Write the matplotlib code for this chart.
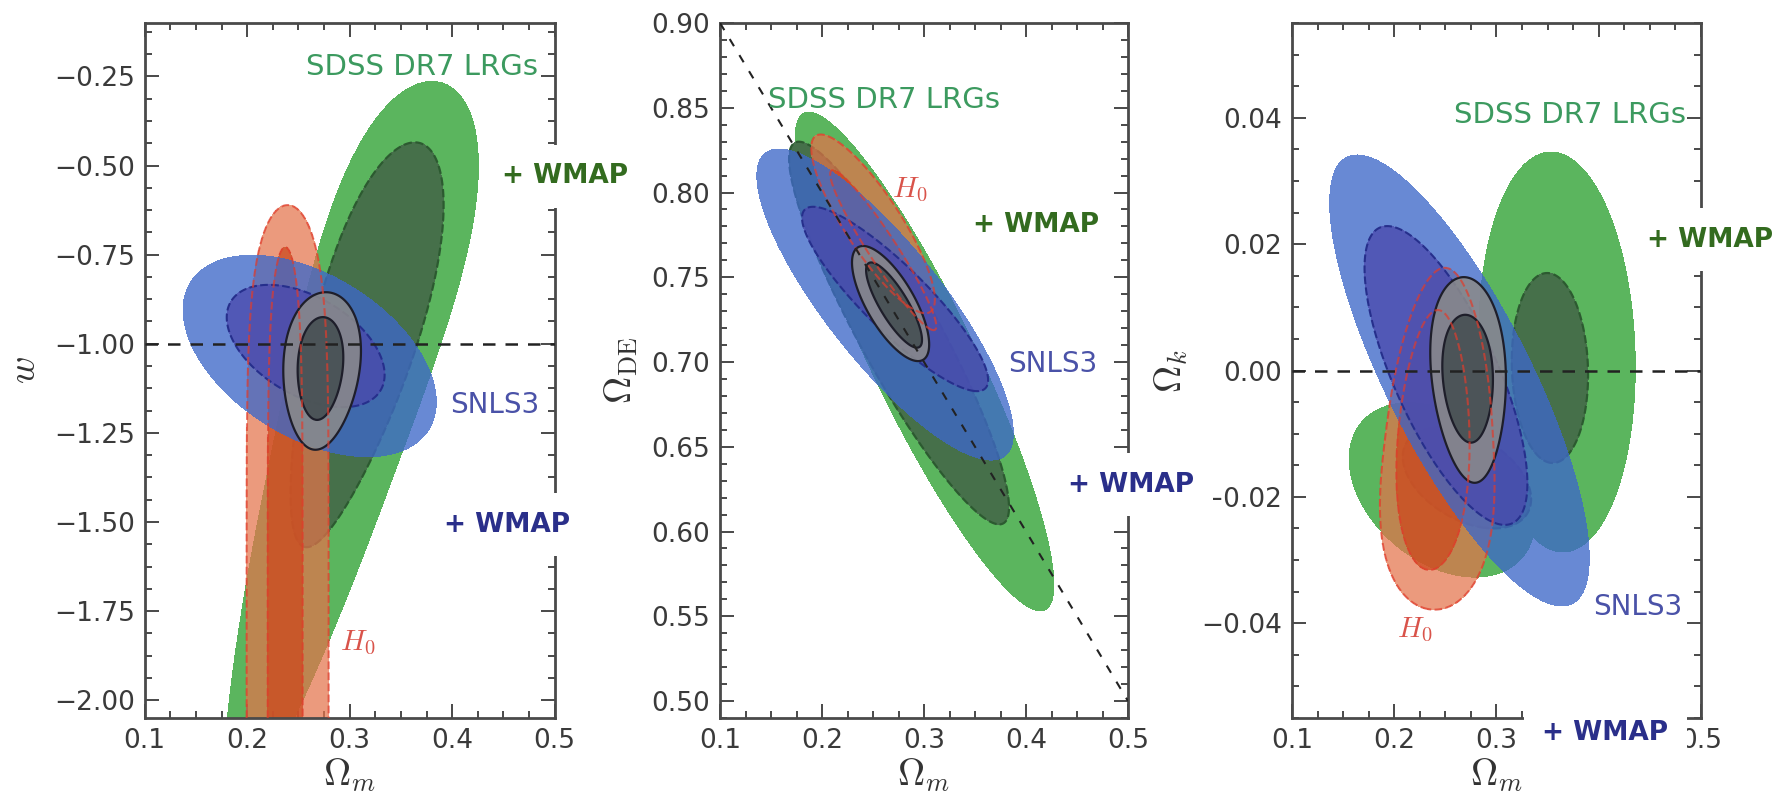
import numpy as np
import matplotlib
matplotlib.use("Agg")
import matplotlib.pyplot as plt
from matplotlib.ticker import MultipleLocator

plt.rcParams['font.family'] = ['DejaVu Sans']
plt.rcParams['mathtext.fontset'] = 'cm'

# ---------------- data ----------------
# Each confidence region: list of ellipse-like shapes
# [centre_x, centre_y (data units), semi-major, semi-minor (axes px), angle (deg), exponent, taper]
# panel 1: Omega_m - w
W_SDSS_95 = [[0.2873, -1.2925, 380, 63, 74, 3.0, 0.46]]
W_SDSS_68 = [[0.3122, -1.0034, 210, 52, 74, 2.0, 0.20]]
W_H0_95 = [[0.2395, -2.182, 560, 41, 90, 8.0, 0.0]]
W_H0_68 = [[0.2371, -2.30, 560, 17.5, 90, 8.0, 0.0]]
W_SN_95 = [[0.2610, -1.0343, 140, 81, -31.6, 2.0, 0.0]]
W_SN_68 = [[0.2571, -1.0063, 87, 49, -30.6, 2.0, 0.0]]
W_ALL_95 = [[0.2722, -1.0764, 79, 38, 85, 2.0, 0.15]]
W_ALL_68 = [[0.2712, -1.0694, 51.5, 22.5, 86, 2.0, 0.10]]

# panel 2: Omega_m - Omega_DE
DE_SDSS_95 = [[0.3005, 0.7003, 276, 52, -64.1, 2.0, 0.0]]
DE_SDSS_68 = [[0.2755, 0.7171, 217, 40, -61.3, 2.0, 0.0]]
DE_H0_95 = [[0.2500, 0.7815, 105, 28, -57, 2.0, 0.0]]
DE_H0_68 = [[0.2600, 0.7660, 95, 14, -57, 2.0, 0.0]]
DE_SN_95 = [[0.2618, 0.7339, 193, 58, -51.6, 2.0, 0.0]]
DE_SN_68 = [[0.2716, 0.7372, 127, 32, -44.7, 2.0, 0.0]]
DE_ALL_95 = [[0.2672, 0.7345, 65, 24, -60, 2.0, 0.0]]
DE_ALL_68 = [[0.2706, 0.7336, 49, 14, -59, 2.0, 0.0]]

# panel 3: Omega_m - Omega_k
K_SDSS_95 = [[0.3592, 0.00293, 200, 78, 92, 2.0, 0.0],
             [0.2467, -0.0189, 105, 72, -40, 2.0, 0.0]]
K_SDSS_68 = [[0.3523, 0.000396, 95, 38, 92, 2.0, 0.0],
             [0.2711, -0.0170, 70, 42, -30, 2.0, 0.0]]
K_H0_95 = [[0.2440, -0.0108, 171, 54, 88, 2.5, -0.28]]
K_H0_68 = [[0.2385, -0.0110, 130, 36, 88, 2.0, -0.15]]
K_SN_95 = [[0.2638, -0.00158, 250, 72, -63.2, 2.0, 0.0]]
K_SN_68 = [[0.2506, -0.00079, 162, 52, -65.9, 2.0, 0.0]]
K_ALL_95 = [[0.2731, -0.0015, 103, 37, 93.5, 2.0, 0.15]]
K_ALL_68 = [[0.2721, -0.0013, 64, 25, 93, 2.0, 0.10]]

XLIM = (0.1, 0.5)
YLIMS = [(-2.05, -0.10), (0.49, 0.90), (-0.055, 0.055)]
XTICKS = [0.1, 0.2, 0.3, 0.4, 0.5]
XTICKLABELS = [['0.1', '0.2', '0.3', '0.4', '0.5'],
               ['0.1', '0.2', '0.3', '0.4', '0.5'],
               ['0.1', '0.2', '0.3', '', '0.5']]
YMAJOR = [0.25, 0.05, 0.02]
YMINOR = [0.0625, 0.01, 0.005]
YLABELS = [r'$w$', r'$\Omega_{\rm DE}$', r'$\Omega_k$']
XLABEL = r'$\Omega_m$'

# label texts and positions (data coords)
LABELS = [
    [("SDSS DR7 LRGs", 0.4834, -0.2235, 'sdss', 'right'),
     ("+ WMAP", 0.510, -0.53, 'wg', 'center'),
     ("SNLS3", 0.4418, -1.172, 'sn', 'center'),
     ("+ WMAP", 0.4535, -1.508, 'wb', 'center'),
     (r"$H_0$", 0.308, -1.84, 'h0', 'center')],
    [("SDSS DR7 LRGs", 0.147, 0.8546, 'sdss', 'left'),
     (r"$H_0$", 0.286, 0.8015, 'h0', 'center'),
     ("+ WMAP", 0.4098, 0.7808, 'wg', 'center'),
     ("SNLS3", 0.4265, 0.699, 'sn', 'center'),
     ("+ WMAP", 0.4412, 0.6275, 'wb', 'left')],
    [("SDSS DR7 LRGs", 0.4853, 0.0404, 'sdss', 'right'),
     ("+ WMAP", 0.5088, 0.0207, 'wg', 'center'),
     ("SNLS3", 0.4384, -0.0374, 'sn', 'center'),
     (r"$H_0$", 0.2203, -0.0411, 'h0', 'center'),
     ("+ WMAP", 0.4066, -0.0574, 'wb', 'center')],
]

# ---------------- styling ----------------
C = dict(
    g95='#5bb55e', g68='#46704a', g68e='#2c5a30',
    h95='#e4734b', h68='#cc4a1e', he='#e03c2c',
    b95='#3e68c8', b68='#4a48ad', b68e='#262f8c',
    a95='#8a8a8a', a68='#464f52',
)
TXT = dict(sdss='#3c9a5f', wg='#336b1f', sn='#4a52a8', wb='#2a2f8a', h0='#d9534a')

FIGW, FIGH = 1788, 801
fig = plt.figure(figsize=(FIGW / 100, FIGH / 100), dpi=100)
fig.patch.set_facecolor('white')
POS = [[0.0809, 0.1036, 0.2293, 0.8677],
       [0.4027, 0.1036, 0.2282, 0.8677],
       [0.7226, 0.1036, 0.2287, 0.8677]]


def region(shapes, XX, YY, ylim, W, H):
    F = None
    for cx, cy, a, b, ang, p, taper in shapes:
        xc = (cx - XLIM[0]) / (XLIM[1] - XLIM[0]) * W
        yc = (cy - ylim[0]) / (ylim[1] - ylim[0]) * H
        th = np.radians(ang)
        dx, dy = XX - xc, YY - yc
        s = dx * np.cos(th) + dy * np.sin(th)
        t = -dx * np.sin(th) + dy * np.cos(th)
        u = s / a
        bb = b * (1 + taper * np.clip(u, -1, 1))
        f = np.abs(u) ** p + (t / bb) ** 2
        F = f if F is None else np.minimum(F, f)
    return F


PANELS = [
    (W_SDSS_95, W_SDSS_68, W_H0_95, W_H0_68, W_SN_95, W_SN_68, W_ALL_95, W_ALL_68),
    (DE_SDSS_95, DE_SDSS_68, DE_H0_95, DE_H0_68, DE_SN_95, DE_SN_68, DE_ALL_95, DE_ALL_68),
    (K_SDSS_95, K_SDSS_68, K_H0_95, K_H0_68, K_SN_95, K_SN_68, K_ALL_95, K_ALL_68),
]

axes = []
for i in range(3):
    ax = fig.add_axes(POS[i])
    axes.append(ax)
    ylim = YLIMS[i]
    W = POS[i][2] * FIGW
    H = POS[i][3] * FIGH
    xs = np.linspace(XLIM[0], XLIM[1], 600)
    ys = np.linspace(ylim[0], ylim[1], 900)
    Xd, Yd = np.meshgrid(xs, ys)
    XX = (Xd - XLIM[0]) / (XLIM[1] - XLIM[0]) * W
    YY = (Yd - ylim[0]) / (ylim[1] - ylim[0]) * H

    s95, s68, h95, h68, b95, b68, a95, a68 = [region(r, XX, YY, ylim, W, H) for r in PANELS[i]]

    lv = [-1, 1]
    ax.contourf(xs, ys, s95, levels=lv, colors=[C['g95']], alpha=1.0, zorder=1)
    ax.contourf(xs, ys, s68, levels=lv, colors=[C['g68']], alpha=1.0, zorder=1.1)
    ax.contour(xs, ys, s68, levels=[1], colors=[C['g68e']], linestyles='dashed', linewidths=1.6, zorder=1.2)
    ax.contourf(xs, ys, h95, levels=lv, colors=[C['h95']], alpha=0.72, zorder=2)
    ax.contourf(xs, ys, h68, levels=lv, colors=[C['h68']], alpha=0.75, zorder=2.1)
    ax.contourf(xs, ys, b95, levels=lv, colors=[C['b95']], alpha=0.78, zorder=3)
    ax.contourf(xs, ys, b68, levels=lv, colors=[C['b68']], alpha=0.75, zorder=3.1)
    ax.contour(xs, ys, b68, levels=[1], colors=[C['b68e']], linestyles='dashed', linewidths=1.5, zorder=3.2)
    ax.contourf(xs, ys, a95, levels=lv, colors=[C['a95']], alpha=0.88, zorder=4)
    ax.contourf(xs, ys, a68, levels=lv, colors=[C['a68']], alpha=0.9, zorder=4.1)
    ax.contour(xs, ys, a95, levels=[1], colors=['#1e1e2a'], linewidths=1.6, zorder=4.2)
    ax.contour(xs, ys, a68, levels=[1], colors=['#1e1e2a'], linewidths=1.6, zorder=4.2)
    for F in (h95, h68):
        ax.contour(xs, ys, F, levels=[1], colors=[C['he']], linestyles='dashed',
                   linewidths=1.5, alpha=0.7, zorder=5)

    # reference lines
    if i == 0:
        ax.axhline(-1.0, color='#222222', ls=(0, (5, 4)), lw=1.8, zorder=6)
    elif i == 1:
        om = np.linspace(XLIM[0], XLIM[1], 50)
        ax.plot(om, 1 - om, color='#222222', ls=(0, (4, 5)), lw=1.5, zorder=6)
    else:
        ax.axhline(0.0, color='#222222', ls=(0, (5, 4)), lw=1.8, zorder=6)

    ax.set_xlim(*XLIM)
    ax.set_ylim(*ylim)
    ax.set_xticks(XTICKS)
    ax.set_xticklabels(XTICKLABELS[i])
    ax.xaxis.set_minor_locator(MultipleLocator(0.025))
    ax.yaxis.set_major_locator(MultipleLocator(YMAJOR[i]))
    ax.yaxis.set_minor_locator(MultipleLocator(YMINOR[i]))
    ax.tick_params(which='both', direction='in', top=True, right=True,
                   colors='#3a3a3a', labelsize=19, pad=7, width=1.3)
    ax.tick_params(which='major', length=10)
    ax.tick_params(which='minor', length=5)
    for sp in ax.spines.values():
        sp.set_linewidth(2.0)
        sp.set_color('#4a4a4a')
    ax.set_xlabel(XLABEL, fontsize=27, color='#333333', labelpad=2)
    ax.set_ylabel(YLABELS[i], fontsize=27, color='#333333', labelpad=8)

# text labels drawn at figure level so their white boxes sit on top of all axes
for i, ax in enumerate(axes):
    for s, x, y, key, ha in LABELS[i]:
        kw = dict(transform=ax.transData, ha=ha, va='center', color=TXT[key], zorder=20)
        if key in ('wg', 'wb'):
            fig.text(x, y, s, fontsize=19, fontweight='bold',
                     bbox=dict(boxstyle='square,pad=0.7', facecolor='white', edgecolor='none'), **kw)
        elif key == 'h0':
            fig.text(x, y, s, fontsize=21, **kw)
        elif key == 'sdss':
            fig.text(x, y, s, fontsize=21, **kw)
        else:
            fig.text(x, y, s, fontsize=20, **kw)

fig.savefig('out.png', dpi=100, facecolor='white')
